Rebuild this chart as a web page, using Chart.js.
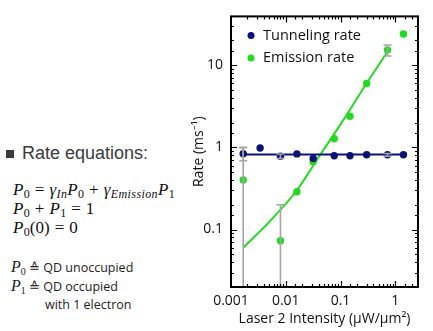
<!DOCTYPE html>
<html>
<head>
<meta charset="utf-8">
<script src="https://cdn.jsdelivr.net/npm/chart.js@4.4.0/dist/chart.umd.min.js"></script>
<style>
  body { margin: 0; background: #fff; width: 433px; height: 331px; overflow: hidden; position: relative; }
  .heading { position: absolute; left: 6px; top: 143px; font-family: 'Liberation Sans', Arial, sans-serif; font-size: 18px; color: #3a3a3a; white-space: nowrap; }
  .heading .sq { display: inline-block; width: 8px; height: 8px; background: #3a3a3a; margin-right: 8px; vertical-align: 1px; }
  .eq { position: absolute; left: 13px; font-family: 'Liberation Serif', serif; font-size: 17px; color: #111; white-space: nowrap; }
  .eq i { font-style: italic; letter-spacing: 0.4px; }
  .eq .op { display: inline-block; margin: 0 5px; }
  .eq sub { font-size: 12px; vertical-align: -3px; line-height: 0; }
  .note { position: absolute; left: 11px; font-family: 'Open Sans', sans-serif; font-size: 12.5px; color: #222; white-space: nowrap; }
  .note .m { font-family: 'Liberation Serif', serif; font-size: 16px; font-style: italic; }
  .note sub { font-size: 10px; font-style: normal; vertical-align: -3px; line-height: 0; }
  #chartBox { position: absolute; left: 180px; top: 0; width: 253px; height: 331px; }
</style>
</head>
<body>

<div class="heading"><span class="sq"></span>Rate equations:</div>
<div class="eq" style="top:180px"><i>P</i><sub>0</sub><span class="op">=</span><i>γ</i><sub><i>In</i></sub><i>P</i><sub>0</sub><span class="op">+</span><i>γ</i><sub><i>Emission</i></sub><i>P</i><sub>1</sub></div>
<div class="eq" style="top:199px"><i>P</i><sub>0</sub><span class="op">+</span><i>P</i><sub>1</sub><span class="op">=</span>1</div>
<div class="eq" style="top:218px"><i>P</i><sub>0</sub>(0)<span class="op">=</span>0</div>

<div class="note" style="top:258px"><span class="m">P<sub>0</sub></span> ≙ QD unoccupied</div>
<div class="note" style="top:277px"><span class="m">P<sub>1</sub></span> ≙ QD occupied</div>
<div class="note" style="top:296px; left:45px">with 1 electron</div>

<div id="chartBox"><canvas id="myChart"></canvas></div>

<script>
// tunneling rate points (ms^-1) vs laser 2 intensity (uW/um^2)
tunnelX = [0.00167, 0.0034, 0.008, 0.016, 0.0317, 0.0767, 0.149, 0.30, 0.72, 1.41]
tunnelY = [0.836, 0.98, 0.78, 0.83, 0.73, 0.79, 0.79, 0.81, 0.81, 0.81]
tunnelErr = [0.15, 0, 0.05, 0, 0, 0, 0, 0, 0.03, 0]

// emission rate points
emissionX = [0.00167, 0.008, 0.016, 0.0317, 0.0767, 0.149, 0.30, 0.72, 1.41]
emissionY = [0.40, 0.073, 0.288, 0.667, 1.27, 2.38, 5.97, 15.2, 23.8]
emissionErr = [0.6, 0.127, 0, 0, 0, 0, 0, 2.3, 0]

// fit lines
tunnelFitX = [0.00167, 1.41]
tunnelFitY = [0.815, 0.815]
emissionFitX = [0.00167, 0.005, 0.016, 0.04, 0.1, 0.3, 0.72]
emissionFitY = [0.06, 0.124, 0.30, 0.76, 1.9, 6.0, 14.5]

xTickLabels = [0.001, 0.01, 0.1, 1]
yTickLabels = [0.1, 1, 10]
legendNames = ['Tunneling rate', 'Emission rate']

navy = 'rgb(10,18,120)'
green = 'rgb(30,220,30)'
gray = 'rgb(165,165,165)'
xMin = 0.001
xMax = 2.6
yMin = 0.02
yMax = 39

function toPoints(xs, ys)
{
    pts = []
    for (i = 0; i < xs.length; i++)
    {
        pts.push({ x: xs[i], y: ys[i] })
    }
    return pts
}

// one small line dataset per error bar, caps drawn as 'line' point style
function errorBars(xs, ys, errs)
{
    sets = []
    for (i = 0; i < xs.length; i++)
    {
        if (errs[i] <= 0) continue
        lo = ys[i] - errs[i]
        if (lo <= 0) lo = yMin / 10   // runs off the bottom of the log axis
        sets.push({
            label: 'err',
            data: [{ x: xs[i], y: lo }, { x: xs[i], y: ys[i] + errs[i] }],
            borderColor: gray,
            borderWidth: 1.6,
            pointStyle: 'line',
            pointRadius: 4,
            pointBorderColor: gray,
            pointBorderWidth: 1.5,
            showLine: true
        })
    }
    return sets
}

function isDecade(v)
{
    l = Math.log10(v)
    return Math.abs(l - Math.round(l)) < 1e-6
}

// frame with inward ticks on all four sides, plus the legend in the top left corner
framePlugin = {
    id: 'frame',
    afterDraw(chart) {
        ctx = chart.ctx
        a = chart.chartArea
        ctx.save()
        ctx.strokeStyle = '#000'
        ctx.lineWidth = 2
        ctx.strokeRect(a.left, a.top, a.right - a.left, a.bottom - a.top)
        ctx.lineWidth = 1.2
        xs = chart.scales.x
        ys = chart.scales.y
        xs.ticks.forEach(t => {
            px = Math.round(xs.getPixelForValue(t.value)) + 0.5
            if (px <= a.left + 1 || px >= a.right - 1) return
            len = isDecade(t.value) ? 6 : 3
            ctx.beginPath()
            ctx.moveTo(px, a.bottom); ctx.lineTo(px, a.bottom - len)
            ctx.moveTo(px, a.top); ctx.lineTo(px, a.top + len)
            ctx.stroke()
        })
        ys.ticks.forEach(t => {
            py = Math.round(ys.getPixelForValue(t.value)) + 0.5
            if (py <= a.top + 1 || py >= a.bottom - 1) return
            len = isDecade(t.value) ? 6 : 3
            ctx.beginPath()
            ctx.moveTo(a.left, py); ctx.lineTo(a.left + len, py)
            ctx.moveTo(a.right, py); ctx.lineTo(a.right - len, py)
            ctx.stroke()
        })

        // legend
        colors = [navy, green]
        ctx.font = "14.5px 'Open Sans', sans-serif"
        ctx.textBaseline = 'middle'
        ctx.textAlign = 'left'
        for (k = 0; k < legendNames.length; k++)
        {
            ly = a.top + 19 + k * 22.6
            ctx.fillStyle = colors[k]
            ctx.beginPath()
            ctx.arc(a.left + 20, ly, 3.5, 0, Math.PI * 2)
            ctx.fill()
            ctx.fillStyle = '#111'
            ctx.fillText(legendNames[k], a.left + 32, ly)
        }
        ctx.restore()
    }
}

datasets = []
datasets = datasets.concat(errorBars(tunnelX, tunnelY, tunnelErr))
datasets = datasets.concat(errorBars(emissionX, emissionY, emissionErr))
datasets.push({
    label: legendNames[0],
    data: toPoints(tunnelX, tunnelY),
    showLine: false,
    pointStyle: 'circle',
    pointRadius: 3.7,
    backgroundColor: navy,
    borderColor: navy,
    pointBorderWidth: 0
})
datasets.push({
    label: legendNames[1],
    data: toPoints(emissionX, emissionY),
    showLine: false,
    pointStyle: 'circle',
    pointRadius: 3.7,
    backgroundColor: green,
    borderColor: green,
    pointBorderWidth: 0
})
datasets.push({
    label: 'fit',
    data: toPoints(tunnelFitX, tunnelFitY),
    showLine: true,
    borderColor: navy,
    borderWidth: 2,
    pointRadius: 0
})
datasets.push({
    label: 'fit',
    data: toPoints(emissionFitX, emissionFitY),
    showLine: true,
    borderColor: green,
    borderWidth: 2,
    pointRadius: 0,
    cubicInterpolationMode: 'monotone'
})

tickFont = { family: "'Open Sans', sans-serif", size: 14 }

var ctx0 = document.getElementById('myChart').getContext('2d');
var myChart = new Chart(ctx0, {
    type: 'scatter',
    data: { datasets: datasets },
    plugins: [framePlugin],
    options: {
        responsive: true,
        maintainAspectRatio: false,
        animation: false,
        layout: { padding: { top: 7, right: 15, left: 0, bottom: 0 } },
        scales: {
            x: {
                type: 'logarithmic',
                min: xMin,
                max: xMax,
                afterFit(scale) { scale.height = 44 },
                grid: { display: false, drawTicks: false },
                border: { display: false },
                ticks: {
                    autoSkip: false,
                    maxRotation: 0,
                    padding: 6,
                    color: '#111',
                    font: tickFont,
                    callback: function(v) { return xTickLabels.some(t => Math.abs(t - v) < t * 1e-6) ? String(v) : '' }
                },
                title: {
                    display: true,
                    text: 'Laser 2 Intensity (μW/μm²)',
                    color: '#111',
                    font: { family: "'Open Sans', sans-serif", size: 14 },
                    padding: { top: 0, bottom: 4 }
                }
            },
            y: {
                type: 'logarithmic',
                min: yMin,
                max: yMax,
                afterFit(scale) { scale.width = 51 },
                grid: { display: false, drawTicks: false },
                border: { display: false },
                ticks: {
                    autoSkip: false,
                    padding: 8,
                    color: '#111',
                    font: tickFont,
                    callback: function(v) { return yTickLabels.some(t => Math.abs(t - v) < t * 1e-6) ? String(v) : '' }
                },
                title: {
                    display: true,
                    text: 'Rate (ms⁻¹)',
                    color: '#111',
                    font: { family: "'Open Sans', sans-serif", size: 14 },
                    padding: { top: 11, bottom: 0 }
                }
            }
        },
        plugins: {
            tooltip: { enabled: false },
            legend: { display: false }
        }
    }
});
</script>
</body>
</html>
